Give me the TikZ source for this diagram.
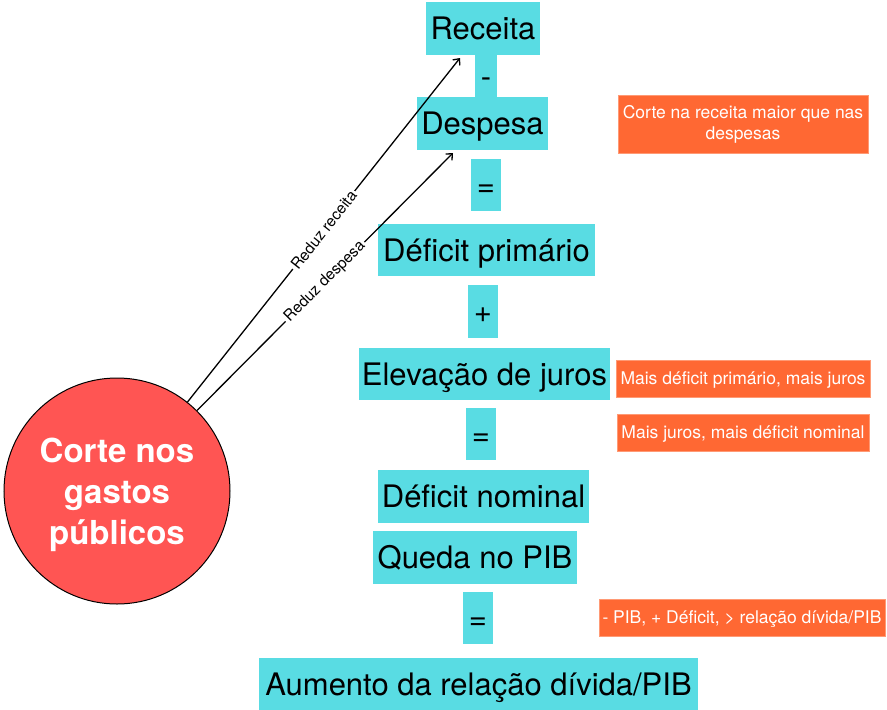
\documentclass[tikz,border=0pt]{standalone}
\usepackage{fontspec}
\setmainfont{TeX Gyre Heros}
\usetikzlibrary{arrows.meta}
\definecolor{cy}{HTML}{59DCE3}
\definecolor{orng}{HTML}{FF6833}
\definecolor{rd}{HTML}{FF5553}
\definecolor{orbd}{HTML}{FF9A75}
\begin{document}
\begin{tikzpicture}[x=1pt,y=-1pt,
 cbox/.style={fill=cy, inner sep=0pt, text=black, font=\fontsize{31}{36}\selectfont, text height=22.3pt, text depth=0pt},
 obox/.style={fill=orng, draw=orbd, line width=0.6pt, inner sep=0pt, text=white, font=\fontsize{17.5}{21}\selectfont, text height=12.6pt, text depth=0pt},
 obox2/.style={fill=orng, draw=orbd, line width=0.6pt, inner sep=0pt, text=white, font=\fontsize{17.5}{21}\selectfont, align=center},
 conn/.style={-{Straight Barb[length=5pt,width=9pt]}, line width=1.3pt},
 lbl/.style={midway, sloped, fill=white, inner sep=2pt, font=\fontsize{15.5}{17}\selectfont}]
\useasboundingbox (0,0) rectangle (887,710);
\node[cbox, minimum width=114pt, minimum height=53pt] (rec) at (483,28.5) {Receita};
\node[cbox, minimum width=22pt, minimum height=42pt] (minus) at (486,76) {-};
\node[cbox, minimum width=131pt, minimum height=53pt] (desp) at (482.5,123.5) {Despesa};
\node[cbox, minimum width=30pt, minimum height=52pt] (eqa) at (486,185) {=};
\node[cbox, minimum width=217pt, minimum height=52pt] (defp) at (486.5,250) {Déficit primário};
\node[cbox, minimum width=30pt, minimum height=53pt] (plus) at (483,311.5) {+};
\node[cbox, minimum width=251pt, minimum height=52pt] (elev) at (484.5,374) {Elevação de juros};
\node[cbox, minimum width=30pt, minimum height=52pt] (eqb) at (481,434) {=};
\node[cbox, minimum width=211pt, minimum height=53pt] (defn) at (483.5,496.5) {Déficit nominal};
\node[cbox, minimum width=204pt, minimum height=53pt] (queda) at (475,557.5) {Queda no PIB};
\node[cbox, minimum width=30pt, minimum height=52pt] (eqc) at (478,618) {=};
\node[cbox, minimum width=439pt, minimum height=52pt] (aum) at (478.5,684) {Aumento da relação dívida/PIB};

\node[obox2, minimum width=250pt, minimum height=58pt] (o1) at (743,124) {Corte na receita maior que nas\\despesas};
\node[obox, minimum width=254pt, minimum height=37pt] (o2) at (743,378.5) {Mais déficit primário, mais juros};
\node[obox, minimum width=252pt, minimum height=37pt] (o3) at (743,432.5) {Mais juros, mais déficit nominal};
\node[obox, minimum width=286pt, minimum height=37pt] (o4) at (742,617.5) {- PIB, + Déficit, > relação dívida/PIB};

\node[circle, fill=rd, draw=black, line width=1pt, minimum size=226pt, inner sep=0pt] (circ) at (117,491) {};
\node[text=white, align=center, inner sep=0pt, font=\bfseries\fontsize{33}{41}\selectfont] (circt) at (117,495) {Corte nos\\gastos\\públicos};

\coordinate (t1) at (460,58);
\coordinate (t2) at (453,153);
\draw[conn] (circ) -- (t1) node[lbl] {Reduz receita};
\draw[conn] (circ) -- (t2) node[lbl] {Reduz despesa};
\end{tikzpicture}
\end{document}
